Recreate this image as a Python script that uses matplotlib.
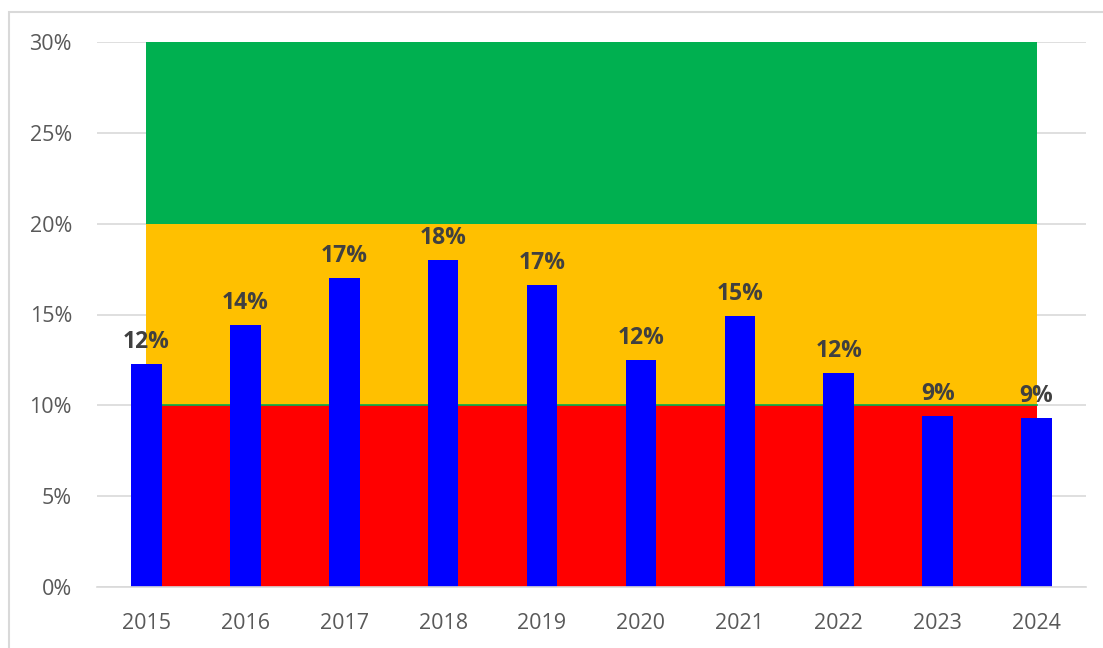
import matplotlib
matplotlib.use("Agg")
import matplotlib.pyplot as plt
from matplotlib.patches import Rectangle

plt.rcParams["font.family"] = ["Open Sans", "DejaVu Sans"]

years = ["2015", "2016", "2017", "2018", "2019", "2020", "2021", "2022", "2023", "2024"]
values = [12.3, 14.4, 17.0, 18.0, 16.6, 12.5, 14.9, 11.8, 9.4, 9.3]
labels = ["12%", "14%", "17%", "18%", "17%", "12%", "15%", "12%", "9%", "9%"]
band_red = [10] * 10
band_orange = [10] * 10
band_green = [10] * 10

fig = plt.figure(figsize=(11.03, 6.48), dpi=100)
fig.patches.append(Rectangle((9 / 1103, -0.1), 1.2, 1 - 12 / 648 + 0.1, transform=fig.transFigure,
                             fill=False, edgecolor="#d9d9d9", linewidth=1.5))
ax = fig.add_axes([97 / 1103, 1 - 587 / 648, (1086 - 97) / 1103, (587 - 42) / 648])

x = list(range(len(years)))
r = band_red
o = [a + b for a, b in zip(band_red, band_orange)]
g = [a + b for a, b in zip(o, band_green)]
ax.fill_between(x, 0, r, color="#ff0000", linewidth=0, zorder=1)
ax.fill_between(x, r, o, color="#ffc000", linewidth=0, zorder=1)
ax.fill_between(x, o, g, color="#00b050", linewidth=0, zorder=1)
ax.plot(x, r, color="#00b050", linewidth=1.2, zorder=1.5)

ax.bar(x, values, width=0.31, color="#0000ff", zorder=2)
for xi, v, lab in zip(x, values, labels):
    ax.text(xi, v + 0.55, lab, ha="center", va="bottom", fontsize=16.5, fontweight="bold",
            color="#404040", zorder=3)

ax.set_xlim(-0.5, len(years) - 0.5)
ax.set_ylim(0, 30)
ax.set_yticks([0, 5, 10, 15, 20, 25, 30])
ax.set_yticklabels(["0%", "5%", "10%", "15%", "20%", "25%", "30%"])
ax.set_xticks(x)
ax.set_xticklabels(years)
ax.tick_params(axis="both", length=0, labelsize=15.5, labelcolor="#595959")
ax.tick_params(axis="y", pad=18)
ax.tick_params(axis="x", pad=19)
ax.grid(axis="y", color="#d9d9d9", linewidth=1.2, zorder=0)
ax.set_axisbelow(True)
for s in ["top", "right", "left"]:
    ax.spines[s].set_visible(False)
ax.spines["bottom"].set_color("#d9d9d9")
ax.spines["bottom"].set_linewidth(1.2)

fig.savefig("out.png", dpi=100)
